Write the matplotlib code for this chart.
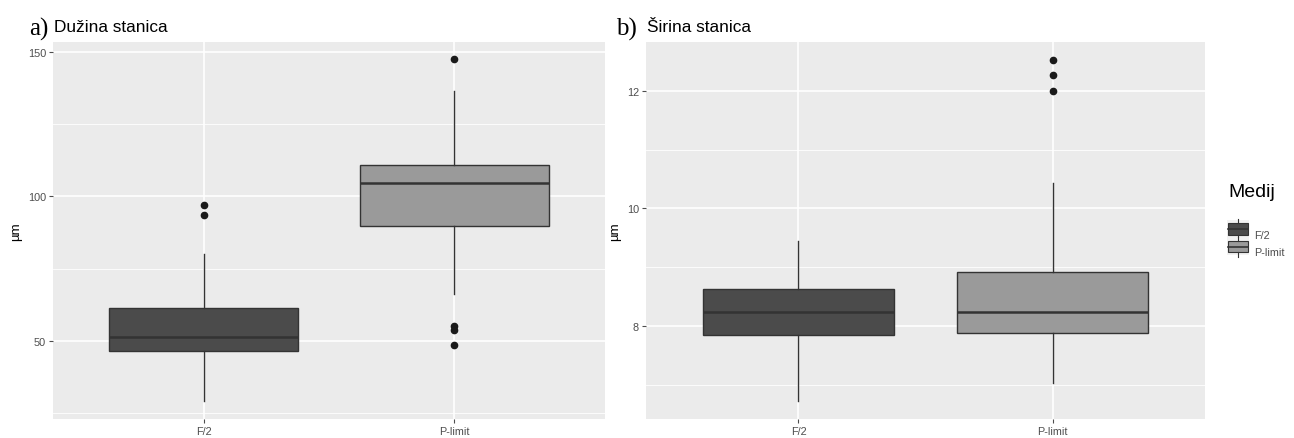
import matplotlib
matplotlib.use("Agg")
import matplotlib.pyplot as plt
from matplotlib.patches import Rectangle
from matplotlib.lines import Line2D
from matplotlib.legend_handler import HandlerBase

plt.rcParams["font.family"] = ["Liberation Sans", "DejaVu Sans"]

# data (box statistics per medium)
groups = ["F/2", "P-limit"]

# a) cell length, um
len_q1 = [46.4, 89.6]
len_med = [51.3, 104.6]
len_q3 = [61.5, 111.0]
len_wlo = [29.2, 66.1]
len_whi = [80.2, 136.5]
len_out = [[96.9, 93.4], [147.5, 55.1, 53.7, 48.7]]

# b) cell width, um
wid_q1 = [7.85, 7.88]
wid_med = [8.24, 8.24]
wid_q3 = [8.63, 8.92]
wid_wlo = [6.72, 7.03]
wid_whi = [9.45, 10.43]
wid_out = [[], [12.53, 12.27, 12.0]]

fills = ["#4b4b4b", "#9a9a9a"]
edge = "#333333"
panel_bg = "#ebebeb"
tick_col = "#4d4d4d"

W, H = 1294, 439
fig = plt.figure(figsize=(W / 100, H / 100), dpi=100)
fig.patch.set_facecolor("white")


def px_axes(x0, x1, ytop, ybot):
    return fig.add_axes([x0 / W, (H - ybot) / H, (x1 - x0) / W, (ybot - ytop) / H])


def make_stats(q1, med, q3, wlo, whi, out):
    stats = []
    for i in range(len(q1)):
        stats.append(dict(q1=q1[i], med=med[i], q3=q3[i], whislo=wlo[i],
                          whishi=whi[i], fliers=out[i], label=groups[i]))
    return stats


def draw_panel(ax, stats, ylim, major, minor):
    ax.set_facecolor(panel_bg)
    for v in minor:
        ax.axhline(v, color="white", lw=0.6, zorder=0)
    for v in major:
        ax.axhline(v, color="white", lw=1.2, zorder=0)
    for x in (1, 2):
        ax.axvline(x, color="white", lw=1.2, zorder=0)
    bp = ax.bxp(stats, positions=[1, 2], widths=0.75, patch_artist=True,
                showcaps=False, zorder=2,
                boxprops=dict(edgecolor=edge, linewidth=1.0),
                medianprops=dict(color=edge, linewidth=1.8),
                whiskerprops=dict(color=edge, linewidth=1.0),
                flierprops=dict(marker="o", markerfacecolor="#1a1a1a",
                                markeredgecolor="#1a1a1a", markersize=4.5))
    for patch, c in zip(bp["boxes"], fills):
        patch.set_facecolor(c)
    ax.set_xlim(0.4, 2.6)
    ax.set_ylim(*ylim)
    ax.set_yticks(major)
    ax.set_yticklabels([str(v) for v in major])
    ax.set_xticks([1, 2])
    ax.set_xticklabels(groups)
    for s in ax.spines.values():
        s.set_visible(False)
    ax.tick_params(colors=tick_col, labelsize=7.8, length=3, width=0.8, pad=2)
    ax.set_ylabel("µm", fontsize=9.5, color="black", labelpad=4)


ax1 = px_axes(53, 605, 43, 420)
draw_panel(ax1, make_stats(len_q1, len_med, len_q3, len_wlo, len_whi, len_out),
           (22.9, 153.5), [50, 100, 150], [25, 75, 125])

ax2 = px_axes(646, 1205, 43, 420)
draw_panel(ax2, make_stats(wid_q1, wid_med, wid_q3, wid_wlo, wid_whi, wid_out),
           (6.42, 12.83), [8, 10, 12], [7, 9, 11])

# panel titles
fig.text(29 / W, 1 - 29 / H, "a)", family="Liberation Serif", fontsize=18, va="center")
fig.text(54 / W, 1 - 28 / H, "Dužina stanica", fontsize=12.4, va="center")
fig.text(616 / W, 1 - 29 / H, "b)", family="Liberation Serif", fontsize=18, va="center")
fig.text(647 / W, 1 - 28 / H, "Širina stanica", fontsize=12.4, va="center")


class BoxKey(HandlerBase):
    def __init__(self, fill):
        super().__init__()
        self.fill = fill

    def create_artists(self, legend, orig, xd, yd, width, height, fontsize, trans):
        cx = xd + width / 2
        bg = Rectangle((xd - 1, yd - height * 0.25), width + 2, height * 1.5,
                       facecolor="#f2f2f2", edgecolor="none", transform=trans)
        r = Rectangle((xd, yd), width, height, facecolor=self.fill,
                      edgecolor=edge, lw=0.8, transform=trans)
        m = Line2D([xd, xd + width], [yd + height / 2] * 2, color=edge, lw=1.2, transform=trans)
        w1 = Line2D([cx, cx], [yd + height, yd + height * 1.35], color=edge, lw=0.8, transform=trans)
        w2 = Line2D([cx, cx], [yd, yd - height * 0.35], color=edge, lw=0.8, transform=trans)
        return [bg, r, m, w1, w2]


fig.text(1228 / W, 1 - 193 / H, "Medij", fontsize=14, va="center", ha="left")

handles = [Rectangle((0, 0), 1, 1) for _ in groups]
leg = fig.legend(handles, groups, loc="upper left",
                 bbox_to_anchor=(1228 / W, 1 - 229 / H), frameon=False,
                 handler_map={h: BoxKey(c) for h, c in zip(handles, fills)},
                 fontsize=7.8, handlelength=1.85, handleheight=1.3,
                 handletextpad=0.6, labelspacing=0.5, borderpad=0,
                 borderaxespad=0)
for t in leg.get_texts():
    t.set_color(tick_col)

fig.savefig("out.png", dpi=100)
